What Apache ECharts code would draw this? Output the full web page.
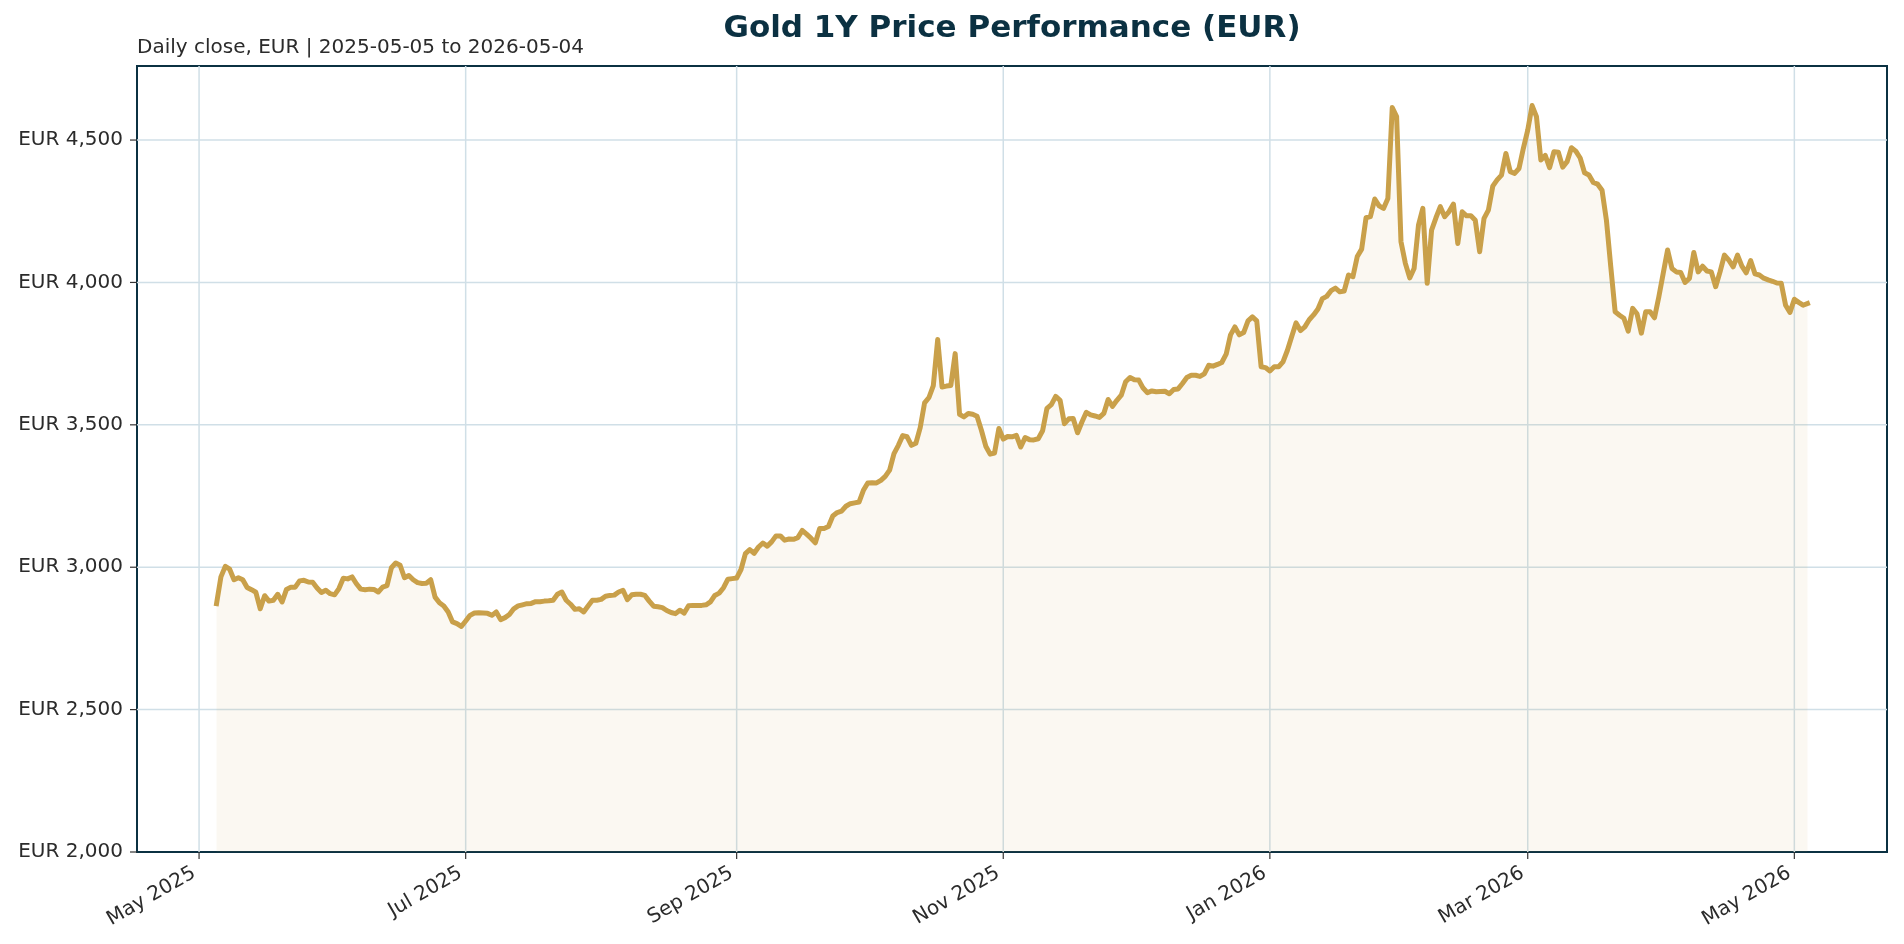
<!DOCTYPE html>
<html>
<head>
<meta charset="utf-8">
<script src="https://cdn.jsdelivr.net/npm/echarts@6/dist/echarts.min.js"></script>
<style>
html,body{margin:0;padding:0;background:#fff;}
#chart{width:1904px;height:944px;}
</style>
</head>
<body>
<div id="chart"></div>
<script>
// ---- Data: daily close (EUR), one value per calendar day, one array per month ----
const firstDate = '2025-05-05';
const lastDate = '2026-05-04';

const may25 = [2872, 2966, 3003, 2993, 2956, 2963, 2956, 2929, 2921, 2912, 2854, 2900, 2881, 2884, 2905, 2878, 2922, 2930, 2930, 2952, 2954, 2948, 2947, 2927, 2911, 2919, 2907];
const jun25 = [2903, 2925, 2961, 2959, 2966, 2942, 2923, 2921, 2923, 2922, 2913, 2930, 2935, 2998, 3015, 3007, 2963, 2971, 2956, 2946, 2943, 2944, 2956, 2895, 2875, 2864, 2843, 2808, 2802, 2792];
const jul25 = [2811, 2831, 2839, 2840, 2839, 2838, 2831, 2843, 2816, 2823, 2834, 2854, 2864, 2868, 2872, 2873, 2879, 2879, 2881, 2882, 2884, 2905, 2913, 2884, 2870, 2852, 2854, 2843, 2864, 2884, 2884];
const aug25 = [2887, 2898, 2901, 2902, 2913, 2919, 2886, 2903, 2905, 2905, 2901, 2881, 2863, 2861, 2858, 2848, 2841, 2837, 2849, 2839, 2865, 2866, 2866, 2866, 2868, 2878, 2901, 2909, 2928, 2958, 2960];
const sep25 = [2962, 2992, 3048, 3062, 3049, 3071, 3085, 3074, 3089, 3110, 3110, 3095, 3099, 3098, 3104, 3129, 3116, 3102, 3086, 3136, 3136, 3143, 3180, 3192, 3197, 3214, 3223, 3226, 3229, 3270];
const oct25 = [3296, 3297, 3296, 3305, 3319, 3341, 3399, 3428, 3462, 3458, 3428, 3435, 3490, 3577, 3596, 3638, 3800, 3633, 3636, 3638, 3750, 3537, 3528, 3540, 3537, 3530, 3481, 3425, 3397, 3401, 3487];
const nov25 = [3450, 3459, 3458, 3463, 3422, 3455, 3448, 3447, 3451, 3479, 3558, 3571, 3600, 3586, 3504, 3521, 3522, 3472, 3510, 3544, 3535, 3531, 3526, 3540, 3589, 3565, 3586, 3604, 3651, 3666];
const dec25 = [3658, 3657, 3629, 3613, 3619, 3616, 3617, 3618, 3609, 3624, 3626, 3645, 3666, 3674, 3674, 3670, 3679, 3709, 3706, 3712, 3719, 3748, 3816, 3844, 3816, 3824, 3865, 3879, 3865, 3704, 3701];
const jan26 = [3689, 3704, 3704, 3721, 3761, 3810, 3858, 3831, 3844, 3869, 3886, 3907, 3943, 3951, 3971, 3980, 3967, 3970, 4026, 4020, 4091, 4117, 4227, 4231, 4293, 4269, 4260, 4295, 4614, 4582, 4143];
const feb26 = [4067, 4016, 4049, 4201, 4260, 3997, 4184, 4227, 4266, 4231, 4249, 4275, 4137, 4248, 4234, 4234, 4218, 4108, 4225, 4254, 4338, 4360, 4377, 4453, 4389, 4383, 4400, 4471];
const mar26 = [4535, 4621, 4582, 4430, 4446, 4403, 4459, 4457, 4405, 4424, 4473, 4461, 4437, 4385, 4377, 4351, 4345, 4324, 4219, 4055, 3897, 3885, 3874, 3829, 3909, 3890, 3822, 3897, 3897, 3876, 3950];
const apr26 = [4032, 4114, 4049, 4037, 4035, 4000, 4014, 4105, 4037, 4057, 4040, 4037, 3985, 4037, 4096, 4078, 4055, 4096, 4057, 4034, 4077, 4030, 4026, 4015, 4009, 4004, 3998, 3997, 3920, 3895];
const may26 = [3941, 3930, 3920, 3926];

const xTickDates = ['2025-05-01', '2025-07-01', '2025-09-01', '2025-11-01', '2026-01-01', '2026-03-01', '2026-05-01'];
const yTickValues = [2000, 2500, 3000, 3500, 4000, 4500];
const monthNames = ['Jan', 'Feb', 'Mar', 'Apr', 'May', 'Jun', 'Jul', 'Aug', 'Sep', 'Oct', 'Nov', 'Dec'];

const titleText = 'Gold 1Y Price Performance (EUR)';
const subtitleText = 'Daily close, EUR | 2025-05-05 to 2026-05-04';

// ---- Calendar-day list ----
function parseLocal(s) {
  const [y, m, d] = s.split('-').map(Number);
  return new Date(y, m - 1, d).getTime();
}
function calendarDays(a, b) {
  const out = [];
  const [y0, m0, d0] = a.split('-').map(Number);
  const end = parseLocal(b);
  for (let i = 0; ; i++) {
    const t = new Date(y0, m0 - 1, d0 + i).getTime();
    if (t > end) break;
    out.push(t);
  }
  return out;
}
const dates = calendarDays(firstDate, lastDate);
const prices = [].concat(may25, jun25, jul25, aug25, sep25, oct25, nov25, dec25, jan26, feb26, mar26, apr26, may26);
const seriesData = dates.map((t, i) => [t, prices[i]]);

const t0 = parseLocal(firstDate), t1 = parseLocal(lastDate);
const pad = (t1 - t0) * 0.05;
const xMin = t0 - pad, xMax = t1 + pad;
const yMin = 2000, yMax = 4760;

const FONT = '"DejaVu Sans", "Noto Sans", sans-serif';
const NAVY = '#0b3142';
const GRID = '#d0dfe7';
const TXT = '#2b2b2b';
const LABEL_FONT = '20px ' + FONT;

function fmtMonth(v) { const d = new Date(v); return monthNames[d.getMonth()] + ' ' + d.getFullYear(); }

const chart = echarts.init(document.getElementById('chart'), null, {renderer: 'canvas'});
chart.setOption({
  animation: false,
  backgroundColor: '#ffffff',
  textStyle: {fontFamily: FONT},
  graphic: [
    {type: 'text', x: 1012, y: 29, style: {text: titleText, font: 'bold 31px ' + FONT, fill: NAVY, align: 'center', verticalAlign: 'middle'}},
    {type: 'text', x: 137, y: 48, style: {text: subtitleText, font: LABEL_FONT, fill: TXT, align: 'left', verticalAlign: 'middle'}}
  ],
  grid: {left: 137, top: 66, right: 17, bottom: 92, show: true, borderColor: NAVY, borderWidth: 2, backgroundColor: 'rgba(0,0,0,0)'},
  xAxis: {
    type: 'time',
    min: xMin,
    max: xMax,
    axisLine: {show: false},
    axisTick: {show: false},
    axisLabel: {show: false},
    splitLine: {show: false}
  },
  yAxis: {
    type: 'value',
    min: yMin,
    max: yMax,
    interval: 500,
    axisLine: {show: false},
    axisTick: {show: false},
    axisLabel: {
      showMaxLabel: false,
      margin: 14,
      fontSize: 20,
      color: TXT,
      fontFamily: FONT,
      formatter: function (v) { return (v % 500 === 0) ? 'EUR ' + v.toLocaleString('en-US') : ''; }
    },
    splitLine: {show: false}
  },
  series: [
    {
      // x gridlines, ticks and month labels, positioned through the time scale
      type: 'custom',
      silent: true,
      clip: false,
      z: 1,
      data: xTickDates.map(d => [parseLocal(d), yMin]),
      encode: {x: 0, y: 1},
      renderItem: function (params, api) {
        const x = api.coord([api.value(0), yMin])[0];
        const top = params.coordSys.y;
        const bottom = params.coordSys.y + params.coordSys.height;
        return {
          type: 'group',
          children: [
            {type: 'line', shape: {x1: x, y1: top, x2: x, y2: bottom}, style: {stroke: GRID, lineWidth: 1.5}},
            {type: 'line', shape: {x1: x, y1: bottom, x2: x, y2: bottom + 7}, style: {stroke: '#333', lineWidth: 1.2}},
            {type: 'text', x: x - 10, y: bottom + 11, rotation: Math.PI / 6,
             style: {text: fmtMonth(api.value(0)), font: LABEL_FONT, fill: TXT, align: 'right', verticalAlign: 'top'}}
          ]
        };
      }
    },
    {
      // y gridlines and ticks, positioned through the value scale
      type: 'custom',
      silent: true,
      clip: false,
      z: 1,
      data: yTickValues.map(v => [xMin, v]),
      encode: {x: 0, y: 1},
      renderItem: function (params, api) {
        const v = api.value(1);
        const y = api.coord([xMin, v])[1];
        const left = params.coordSys.x;
        const right = params.coordSys.x + params.coordSys.width;
        const kids = [{type: 'line', shape: {x1: left - 7, y1: y, x2: left, y2: y}, style: {stroke: '#333', lineWidth: 1.2}}];
        if (v > yMin) kids.unshift({type: 'line', shape: {x1: left, y1: y, x2: right, y2: y}, style: {stroke: GRID, lineWidth: 1.5}});
        return {type: 'group', children: kids};
      }
    },
    {
      type: 'line',
      data: seriesData,
      symbol: 'none',
      showSymbol: false,
      lineStyle: {color: '#c9a04a', width: 5, cap: 'square', join: 'round'},
      areaStyle: {color: 'rgba(201,160,74,0.1)', origin: 'start'},
      z: 3
    }
  ]
});
</script>
</body>
</html>
